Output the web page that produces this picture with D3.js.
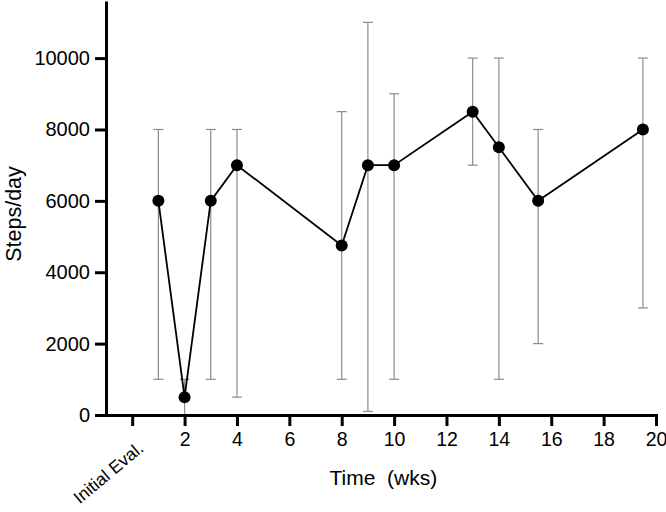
<!DOCTYPE html>
<html>
<head>
<meta charset="utf-8">
<script src="https://cdn.jsdelivr.net/npm/d3@7"></script>
<style>
  html, body { margin: 0; padding: 0; background: #fff; }
  svg text { font-family: "Liberation Sans", Arial, Helvetica, sans-serif; fill: #000; }
</style>
</head>
<body>
<svg id="chart" width="666" height="512"></svg>
<script>
// Data
const weeks  = [1, 2, 3, 4, 8, 9, 10, 13, 14, 15.5, 19.5];
const means  = [6000, 500, 6000, 7000, 4750, 7000, 7000, 8500, 7500, 6000, 8000];
const lowers = [1000, 0, 1000, 500, 1000, 100, 1000, 7000, 1000, 2000, 3000];
const uppers = [8000, 1000, 8000, 8000, 8500, 11000, 9000, 10000, 10000, 8000, 10000];
const xTicks = [0, 2, 4, 6, 8, 10, 12, 14, 16, 18, 20];
const xTickLabels = ["Initial Eval.", "2", "4", "6", "8", "10", "12", "14", "16", "18", "20"];
const yTicks = [0, 2000, 4000, 6000, 8000, 10000];
const xTitle = "Time  (wks)";
const yTitle = "Steps/day";

const svg = d3.select("#chart");
const x = d3.scaleLinear().domain([-1, 20]).range([106, 656]);
const y = d3.scaleLinear().domain([0, 11600]).range([415, 1]);

const pts = weeks.map((w, i) => ({ w, m: means[i], lo: lowers[i], hi: uppers[i] }));

// Error bars
const eb = svg.append("g").attr("stroke", "#8c8c8c").attr("stroke-width", 1.2).attr("fill", "none");
pts.forEach(d => {
  eb.append("line").attr("x1", x(d.w)).attr("x2", x(d.w)).attr("y1", y(d.lo)).attr("y2", y(d.hi));
  eb.append("line").attr("x1", x(d.w) - 5).attr("x2", x(d.w) + 5).attr("y1", y(d.hi)).attr("y2", y(d.hi));
  eb.append("line").attr("x1", x(d.w) - 5).attr("x2", x(d.w) + 5).attr("y1", y(d.lo)).attr("y2", y(d.lo));
});

// Line
svg.append("path")
  .datum(pts)
  .attr("fill", "none")
  .attr("stroke", "#000")
  .attr("stroke-width", 1.8)
  .attr("d", d3.line().x(d => x(d.w)).y(d => y(d.m)));

// Points
svg.append("g").selectAll("circle").data(pts).join("circle")
  .attr("cx", d => x(d.w)).attr("cy", d => y(d.m)).attr("r", 6).attr("fill", "#000");

// Y axis
const yAxis = svg.append("g")
  .attr("transform", `translate(${x(-1)},0)`)
  .call(d3.axisLeft(y).tickValues(yTicks).tickFormat(d3.format("d")).tickSize(11).tickSizeOuter(0).tickPadding(5));
yAxis.select(".domain").attr("stroke-width", 3);
yAxis.selectAll(".tick line").attr("stroke-width", 3);
yAxis.selectAll(".tick text").style("font-size", "20px");

// X axis
const xAxis = svg.append("g")
  .attr("transform", `translate(0,${y(0)})`)
  .call(d3.axisBottom(x).tickValues(xTicks).tickFormat((d, i) => xTickLabels[i]).tickSize(11).tickSizeOuter(0).tickPadding(6));
xAxis.select(".domain").attr("stroke-width", 3).attr("stroke-linecap", "square");
xAxis.selectAll(".tick line").attr("stroke-width", 3);
xAxis.selectAll(".tick text").style("font-size", "19.5px");
xAxis.selectAll(".tick text").filter(d => d === 0)
  .attr("text-anchor", "end")
  .attr("dy", null)
  .attr("y", 0)
  .attr("transform", "translate(12,35) rotate(-40)")
  .style("font-size", "17.5px");

// Axis titles
svg.append("text")
  .attr("x", (x(2) + x(20)) / 2 - 37)
  .attr("y", 485)
  .attr("text-anchor", "middle")
  .style("font-size", "21px")
  .style("white-space", "pre")
  .text(xTitle);

svg.append("text")
  .attr("transform", `translate(21,${214}) rotate(-90)`)
  .attr("text-anchor", "middle")
  .style("font-size", "21.5px")
  .text(yTitle);
</script>
</body>
</html>
